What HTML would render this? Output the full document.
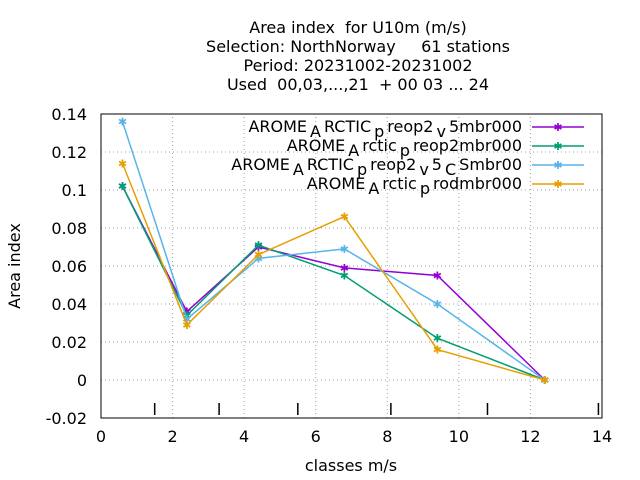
<!DOCTYPE html>
<html><head><meta charset="utf-8"><style>body{margin:0;background:#fff}svg{display:block;font-family:"DejaVu Sans","Liberation Sans",sans-serif}</style></head>
<body>
<svg id="c" width="640" height="480"></svg>
<script>
const categories=[0.6,2.4,4.4,6.8,9.4,12.4];
const seriesNames=["AROME_ARCTIC_preop2_v5mbr000","AROME_Arctic_preop2mbr000","AROME_ARCTIC_preop2_v5_CSmbr00","AROME_Arctic_prodmbr000"];
const s1=[0.102,0.036,0.070,0.059,0.055,0.0];
const s2=[0.102,0.034,0.071,0.055,0.022,0.0];
const s3=[0.136,0.032,0.064,0.069,0.040,0.0];
const s4=[0.114,0.029,0.066,0.086,0.016,0.0];
const xTicks=[0,2,4,6,8,10,12,14];
const yTicks=[-0.02,0,0.02,0.04,0.06,0.08,0.1,0.12,0.14];
const yLabels=["-0.02","0","0.02","0.04","0.06","0.08","0.1","0.12","0.14"];
const classBounds=[1.5,3.3,5.5,8.1,10.8,13.9];
const colors=["#9400d3","#009e73","#56b4e9","#e69f00"];
const svg=document.getElementById('c');const NS="http://www.w3.org/2000/svg";
const X0=101,X1=602,Y0=418,Y1=114;
const FS=16;
const xs=v=>X0+(v-0)/(14-0)*(X1-X0);
const ys=v=>Y0-(v+0.02)/(0.16)*(Y0-Y1);
function mk(t,a,p){const e=document.createElementNS(NS,t);for(const k in a)e.setAttribute(k,a[k]);(p||svg).appendChild(e);return e;}
xTicks.forEach(t=>{if(t>0&&t<14){const g=mk('line',{x1:xs(t),x2:xs(t),y1:Y0,y2:Y1,stroke:'#a0a0a0','stroke-dasharray':'1,3'});

}
const l=mk('text',{x:xs(t),y:Y0+24,'text-anchor':'middle','font-size':FS});l.textContent=t;

});
yTicks.forEach((t,i)=>{if(i>0&&i<yTicks.length-1){const g=mk('line',{x1:X0,x2:X1,y1:ys(t),y2:ys(t),stroke:'#a0a0a0','stroke-dasharray':'1,3'});

}
const l=mk('text',{x:X0-14,y:ys(t)+6,'text-anchor':'end','font-size':FS});l.textContent=yLabels[i];

});
const frame=mk('rect',{x:X0,y:Y1,width:X1-X0,height:Y0-Y1,fill:'none',stroke:'#000'});


classBounds.forEach(b=>{const t=mk('line',{x1:xs(b),x2:xs(b),y1:Y0-15,y2:Y0-3,stroke:'#000','stroke-width':1.5});

});
[s1,s2,s3,s4].forEach((s,i)=>{const pts=s.map((v,j)=>xs(categories[j])+','+ys(v)).join(' ');
const pl=mk('polyline',{points:pts,fill:'none',stroke:colors[i],'stroke-width':1.5});


s.forEach((v,j)=>{const m=mk('text',{x:xs(categories[j]),y:ys(v)+4,'text-anchor':'middle','font-size':11,fill:colors[i],'font-weight':'bold'});m.textContent='✱';

});});
const legHTML=[['AROME','A','RCTIC','p','reop2','v','5mbr000'],['AROME','A','rctic','p','reop2mbr000'],['AROME','A','RCTIC','p','reop2','v','5','C','Smbr00'],['AROME','A','rctic','p','rodmbr000']];
legHTML.forEach((parts,i)=>{const y=127+19*i;
const t=mk('text',{x:522,y:y+5,'text-anchor':'end','font-size':FS});
parts.forEach((p,k)=>{const ts=mk('tspan',{},t);if(k>0)ts.setAttribute('dy',k%2?5:-5);if(k>0)ts.setAttribute('dx',3);ts.textContent=p;});


const l=mk('line',{x1:532,x2:584,y1:y,y2:y,stroke:colors[i],'stroke-width':1.5});


const m=mk('text',{x:558,y:y+4,'text-anchor':'middle','font-size':11,fill:colors[i],'font-weight':'bold'});m.textContent='✱';

});
["Area index  for U10m (m/s)","Selection: NorthNorway     61 stations","Period: 20231002-20231002","Used  00,03,...,21  + 00 03 ... 24"].forEach((s,i)=>{
const t=mk('text',{x:358,y:33+19*i,'text-anchor':'middle','font-size':FS});t.textContent=s;t.style.whiteSpace='pre';

});
const xl=mk('text',{x:351,y:471,'text-anchor':'middle','font-size':FS});xl.textContent='classes m/s';


const yl=mk('text',{x:20,y:266,'text-anchor':'middle','font-size':FS,transform:'rotate(-90 20 266)'});yl.textContent='Area index';


</script>
</body></html>
